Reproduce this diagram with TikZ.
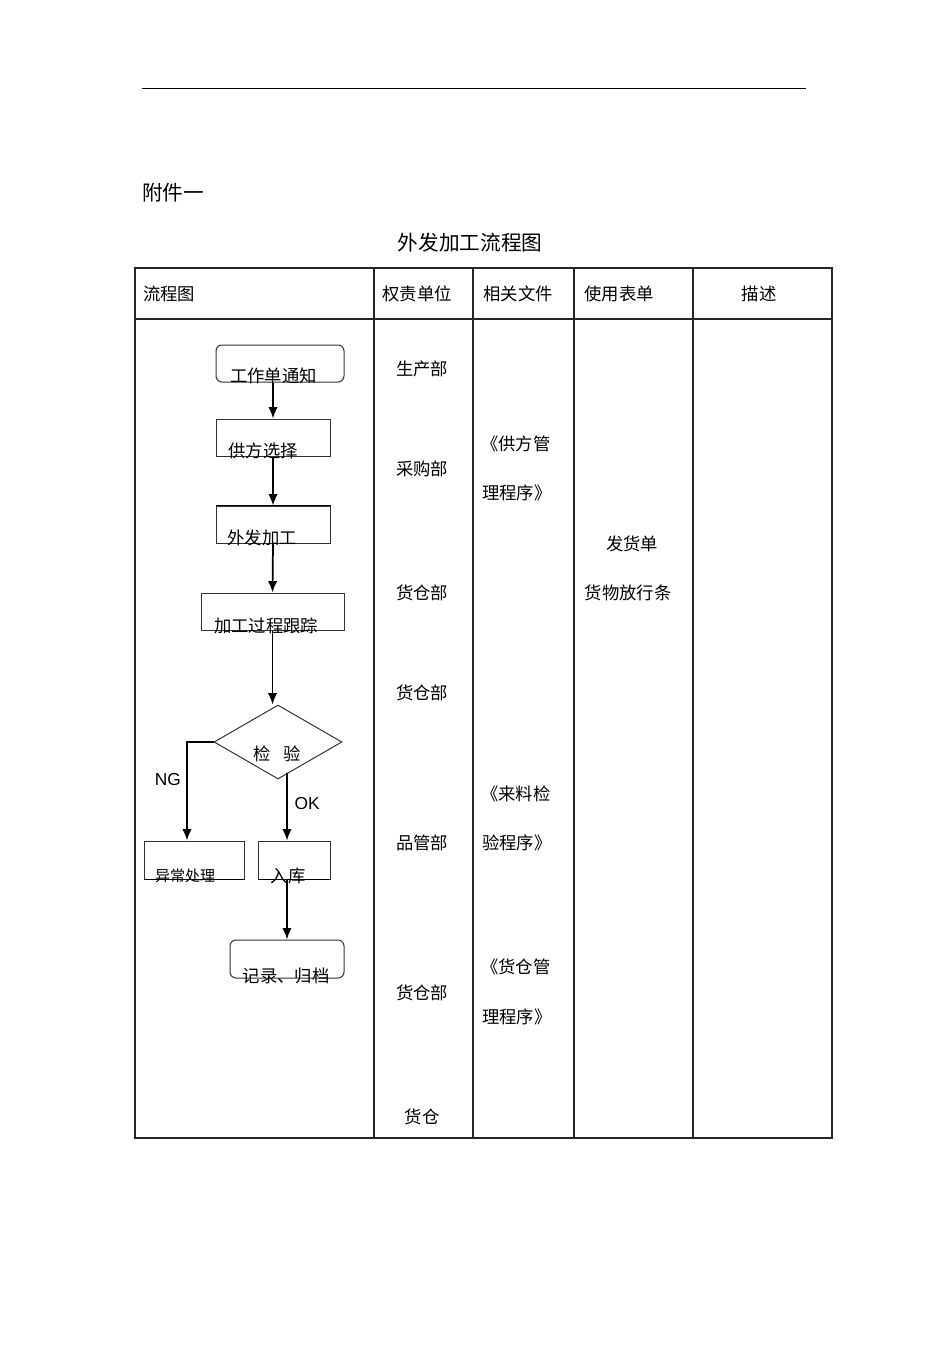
\documentclass[tikz,border=0pt]{standalone}
\usepackage{fontspec}
\setmainfont{Noto Sans CJK SC}
\newfontfamily\latinfont{Liberation Sans}
\usetikzlibrary{arrows.meta,shapes.geometric}

\begin{document}
\begin{tikzpicture}[x=0.75pt,
            y=-0.75pt,
            >={Latex[length=8.5pt,width=7pt]},
            box/.style={draw=black!80,line width=0.75pt,inner sep=0pt,minimum height=27.75pt},
            rbox/.style={box,rounded corners=4.5pt},
            txt/.style={inner sep=0pt,font=\fontsize{13pt}{15pt}\selectfont},
            tbl/.style={draw=black!85,line width=0.8pt},
            edge/.style={line width=1.3pt},
            flow/.style={->,line width=1.3pt}]

        \useasboundingbox (0,0) rectangle (950,1345);

        % page head
        \draw[line width=0.6pt] (142,88) -- (806,88);
        \node[txt,font=\fontsize{15.5pt}{17pt}\selectfont] (fj) at (173,193) {附件一};
        \node[txt,font=\fontsize{15.5pt}{17pt}\selectfont] (title) at (470,243) {外发加工流程图};

        % table
        \draw[tbl] (135,268) rectangle (832,1138);
        \draw[tbl] (135,319) -- (832,319);
        \foreach \x in {374,473,574,693}
            \draw[tbl] (\x,268) -- (\x,1138);

        \node[txt,anchor=west] (h1) at (143,294) {流程图};
        \node[txt]             (h2) at (417,294) {权责单位};
        \node[txt]             (h3) at (518,294) {相关文件};
        \node[txt]             (h4) at (619,294) {使用表单};
        \node[txt]             (h5) at (759,294) {描述};

        \node[txt] (d1) at (422,369)  {生产部};
        \node[txt] (d2) at (422,469)  {采购部};
        \node[txt] (d3) at (422,593)  {货仓部};
        \node[txt] (d4) at (422,693)  {货仓部};
        \node[txt] (d5) at (422,843)  {品管部};
        \node[txt] (d6) at (422,993)  {货仓部};
        \node[txt] (d7) at (422,1117) {货仓};

        \node[txt,anchor=west] (f1a) at (481,444)  {《供方管};
        \node[txt,anchor=west] (f1b) at (482,493)  {理程序》};
        \node[txt,anchor=west] (f2a) at (481,794)  {《来料检};
        \node[txt,anchor=west] (f2b) at (482,843)  {验程序》};
        \node[txt,anchor=west] (f3a) at (481,967)  {《货仓管};
        \node[txt,anchor=west] (f3b) at (482,1017) {理程序》};

        \node[txt] (b1) at (632,544) {发货单};
        \node[txt] (b2) at (628,593) {货物放行条};

        % flow chart
        \node[rbox,minimum width=96pt]    (gz) at (280,363.5) {};
        \node[box,minimum width=85.5pt]   (gf) at (273,437.5) {};
        \node[box,minimum width=85.5pt]   (wf) at (273,524.5) {};
        \node[box,minimum width=107.25pt] (gc) at (272.5,611.5) {};
        \node[box,diamond,minimum width=96pt,minimum height=55.5pt] (jy) at (278,742) {};
        \node[box,minimum width=75pt,minimum height=28.5pt] (yc) at (194,860) {};
        \node[box,minimum width=54pt,minimum height=28.5pt] (rk) at (294,860) {};
        \node[rbox,minimum width=85.5pt,minimum height=28.5pt] (jl) at (287,959) {};

        \draw[edge] (wf.north west) -- (wf.north east);
        \draw[edge] (yc.south west) -- (yc.south east);
        \draw[edge] (rk.south west) -- (rk.south east);

        \node[txt] at (273.5,376) {工作单通知};
        \node[txt] at (263,451)   {供方选择};
        \node[txt] at (262,538)   {外发加工};
        \node[txt] at (266,626)   {加工过程跟踪};
        \node[txt] at (277,754)   {检\hspace{0.7em}验};
        \node[txt,font=\fontsize{11.25pt}{13pt}\selectfont] at (185,876) {异常处理};
        \node[txt] at (288,876)   {入库};
        \node[txt] at (286,976)   {记录、归档};

        \draw[flow] (gf.north |- gz.south) -- (gf.north);
        \draw[flow] (gf.south) -- (wf.north);
        \draw[flow] (wf.south) -- (gc.north);
        \draw[flow] (gc.south) -- (gc.south |- jy.north);
        \draw[flow] (jy.west) -| ([xshift=-5.25pt]yc.north)
            node[pos=0.69,left=4pt,txt,font=\latinfont\fontsize{13pt}{15pt}\selectfont] {NG};
        \draw[flow] ([yshift=5pt]jy.south -| jl.north) -- (jl.north |- rk.north)
            node[pos=0.45,right=5pt,txt,font=\latinfont\fontsize{13pt}{15pt}\selectfont] {OK};
        \draw[flow] (jl.north |- rk.south) -- (jl.north);

\end{tikzpicture}
\end{document}
